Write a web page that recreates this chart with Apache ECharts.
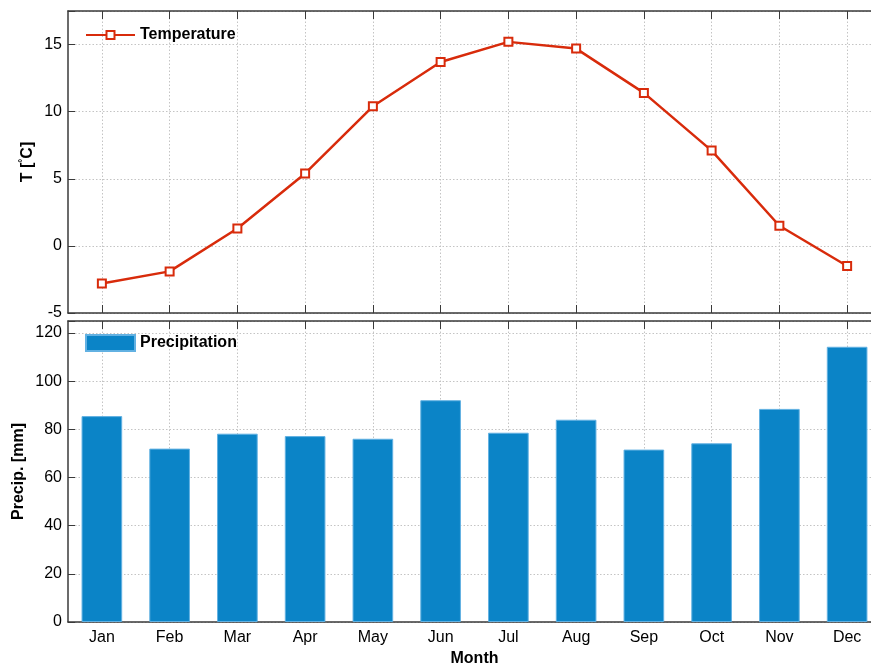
<!DOCTYPE html>
<html><head><meta charset="utf-8">
<script src="https://cdn.jsdelivr.net/npm/echarts@6/dist/echarts.min.js"></script>
<style>html,body{margin:0;padding:0;background:#fff}#c{width:871px;height:666px}</style>
</head><body><div id="c"></div>
<script>
const months = ['Jan','Feb','Mar','Apr','May','Jun','Jul','Aug','Sep','Oct','Nov','Dec'];
const temperature = [-2.8, -1.9, 1.3, 5.4, 10.4, 13.7, 15.2, 14.7, 11.4, 7.1, 1.5, -1.5];
const precipitation = [85.5, 72.0, 78.2, 77.2, 76.1, 92.1, 78.6, 84.0, 71.6, 74.2, 88.5, 114.3];
const tempAxis = {min: -5, max: 17.5, interval: 5};
const precAxis = {min: 0, max: 125, interval: 20};

const FONT = "'Liberation Sans', Arial, sans-serif";
const AXIS_COLOR = '#3a3a3a';
const GRID_LINE = {show: true, lineStyle: {color: '#c4c4c4', type: [1.5, 2], width: 1}};
const LABEL_SIZE = 16;
const TITLE_SIZE = 16;

function xAx(gridIndex, position, opts) {
  return Object.assign({
    type: 'category', gridIndex, position, data: months, boundaryGap: true,
    axisLine: {show: true, onZero: false, lineStyle: {color: AXIS_COLOR, width: 1.5}},
    axisTick: {show: true, inside: true, alignWithLabel: true, length: 8, lineStyle: {color: AXIS_COLOR, width: 1}},
    axisLabel: {show: false},
    splitLine: {show: false}
  }, opts || {});
}
function yAx(gridIndex, ax, name, nameGap) {
  return {
    type: 'value', gridIndex, min: ax.min, max: ax.max, interval: ax.interval,
    name, nameLocation: 'middle', nameGap, nameRotate: 90, nameMoveOverlap: false,
    nameTextStyle: {fontFamily: FONT, fontSize: TITLE_SIZE, fontWeight: 'bold', color: '#000',
      rich: {s: {fontFamily: FONT, fontSize: 10, fontWeight: 'bold', color: '#000', verticalAlign: 'top', padding: [0,0,9,0]},
             n: {fontFamily: FONT, fontSize: TITLE_SIZE, fontWeight: 'bold', color: '#000'}}},
    axisLine: {show: true, lineStyle: {color: AXIS_COLOR, width: 1.5}},
    axisTick: {show: true, inside: true, length: 7, lineStyle: {color: AXIS_COLOR, width: 1}},
    axisLabel: {show: true, margin: 6, fontFamily: FONT, fontSize: LABEL_SIZE, color: '#000',
      formatter: v => (Math.abs((v - ax.min) % ax.interval) < 1e-9 ? String(v) : '')},
    splitLine: GRID_LINE
  };
}

const chart = echarts.init(document.getElementById('c'), null, {renderer: 'canvas'});
chart.setOption({
  backgroundColor: '#fff',
  animation: false,
  textStyle: {fontFamily: FONT},
  grid: [
    {left: 68, top: 11, width: 813, height: 302, containLabel: false, outerBoundsMode: 'none'},
    {left: 68, top: 321, width: 813, height: 301, containLabel: false, outerBoundsMode: 'none'}
  ],
  legend: [
    {data: ['Temperature'], left: 85, top: 27, padding: 0, itemWidth: 49, itemHeight: 10, itemGap: 6,
      textStyle: {fontFamily: FONT, fontSize: TITLE_SIZE, fontWeight: 'bold', color: '#000'}},
    {data: [{name: 'Precipitation', icon: 'rect'}], left: 85, top: 334, padding: 0, itemWidth: 49, itemHeight: 16, itemGap: 6,
      textStyle: {fontFamily: FONT, fontSize: TITLE_SIZE, fontWeight: 'bold', color: '#000'}}
  ],
  xAxis: [
    xAx(0, 'bottom', {splitLine: Object.assign({alignWithLabel: true}, GRID_LINE)}),
    xAx(0, 'top'),
    xAx(1, 'bottom', {
      splitLine: Object.assign({alignWithLabel: true}, GRID_LINE),
      axisLabel: {show: true, margin: 8, fontFamily: FONT, fontSize: LABEL_SIZE, color: '#000'},
      name: 'Month', nameLocation: 'middle', nameGap: 29,
      nameTextStyle: {fontFamily: FONT, fontSize: TITLE_SIZE, fontWeight: 'bold', color: '#000'}
    }),
    xAx(1, 'top')
  ],
  yAxis: [
    yAx(0, tempAxis, '{n|T [}{s|°}{n|C]}', 31),
    yAx(1, precAxis, 'Precip. [mm]', 41)
  ],
  series: [
    {name: 'Temperature', type: 'line', xAxisIndex: 0, yAxisIndex: 0, data: temperature,
      symbol: 'rect', symbolSize: 8, showSymbol: true,
      lineStyle: {color: '#d82b0b', width: 2.5},
      itemStyle: {color: '#ffffff', borderColor: '#d82b0b', borderWidth: 2},
      z: 5},
    {name: 'Precipitation', type: 'bar', xAxisIndex: 2, yAxisIndex: 1, data: precipitation,
      barWidth: '60%',
      itemStyle: {color: '#0b84c7', borderColor: '#62b1e2', borderWidth: 1}}
  ]
});
</script>
</body></html>
